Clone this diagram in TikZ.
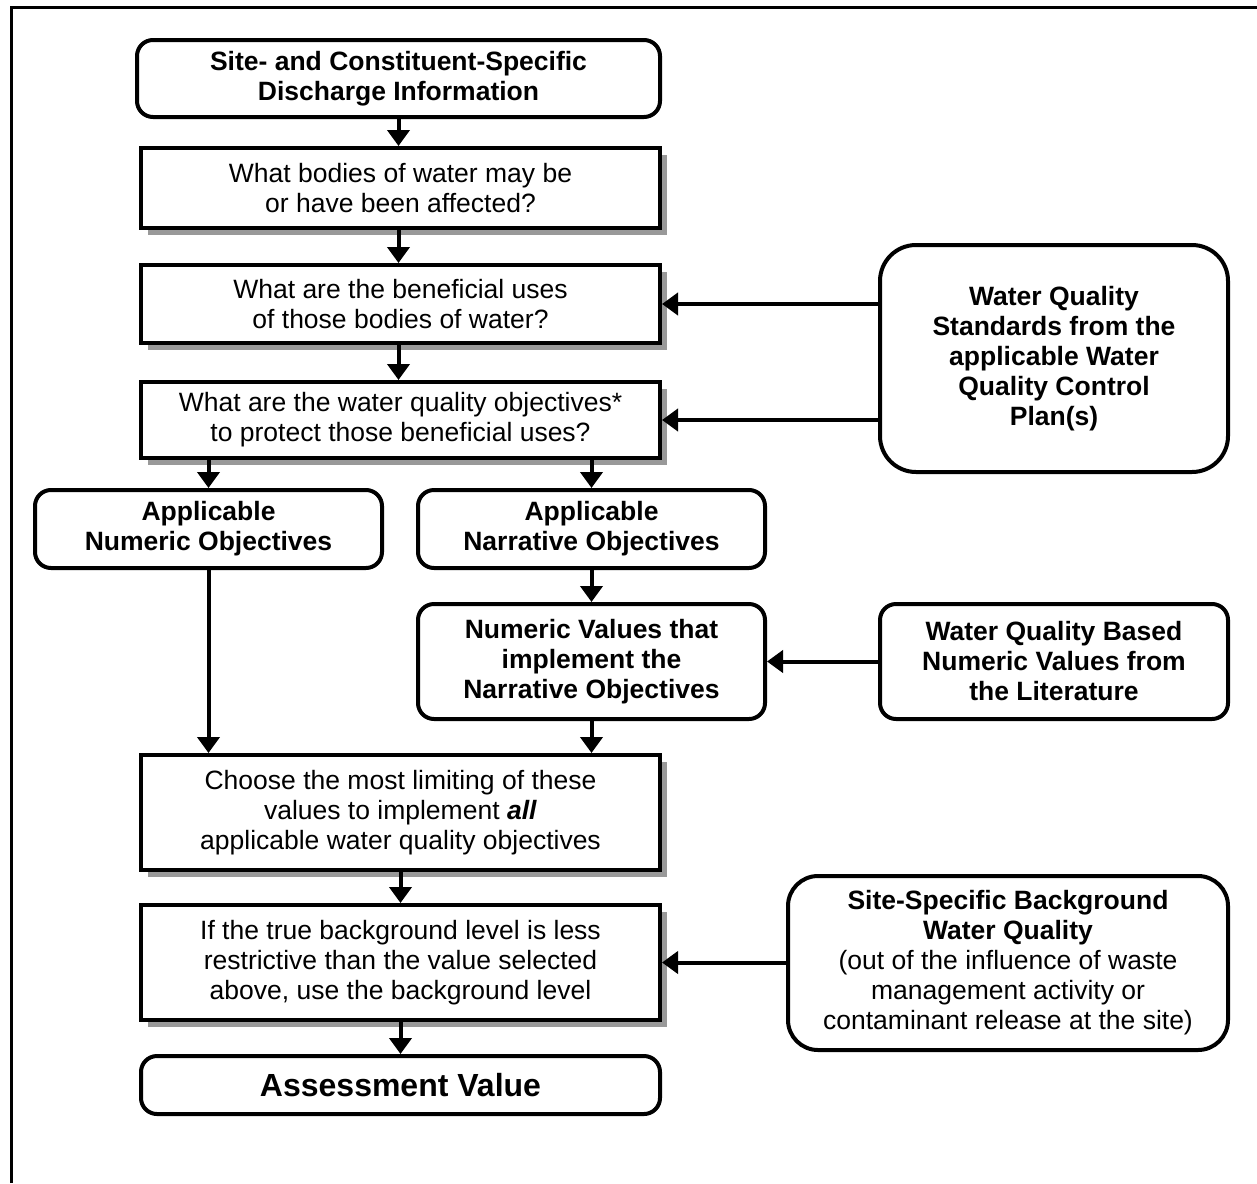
\documentclass[tikz,border=0pt]{standalone}
\usepackage{fontspec}
\setmainfont{Liberation Sans}
\usetikzlibrary{shadows, arrows.meta, positioning}

\begin{document}
\begin{tikzpicture}[x=1pt, y=-1pt,
    qbox/.style={draw, line width=4pt, fill=white, align=center, inner sep=0pt,
        font=\fontsize{26.5}{30}\selectfont,
        drop shadow={shadow xshift=7pt, shadow yshift=-7pt, fill=black!40, opacity=1}},
    rbox/.style={draw, line width=4pt, fill=white, align=center, inner sep=0pt,
        rounded corners=16pt, font=\fontsize{26.5}{30}\selectfont\bfseries},
    arr/.style={line width=4pt, -{Triangle[width=22pt, length=16pt]}}]
    \useasboundingbox (0,0) rectangle (1257,1183);

    % Frame
    \draw[line width=3pt] (11,1183) -- (11,7) -- (1257,7);

    % Main column
    \node[rbox, minimum width=523pt, minimum height=77pt] (site) at (398.5, 78.5)
        {Site- and Constituent-Specific\\Discharge Information};
    \node[qbox, minimum width=519pt, minimum height=80pt] (bodies) at (400.5, 188)
        {What bodies of water may be\\or have been affected?};
    \node[qbox, minimum width=519pt, minimum height=78pt] (uses) at (400.5, 304)
        {What are the beneficial uses\\of those bodies of water?};
    \node[qbox, minimum width=519pt, minimum height=76pt] (wqo) at (400.5, 420)
        {What are the water quality objectives*\\to protect those beneficial uses?};

    % Objectives
    \node[rbox, minimum width=347pt, minimum height=78pt] (numobj) at (208.5, 529)
        {Applicable\\Numeric Objectives};
    \node[rbox, minimum width=347pt, minimum height=78pt] (narobj) at (591.5, 529)
        {Applicable\\Narrative Objectives};
    \node[rbox, minimum width=347pt, minimum height=115pt] (numval) at (591.5, 661.5)
        {Numeric Values that\\implement the\\Narrative Objectives};

    % Sources on the right
    \node[rbox, rounded corners=36pt, minimum width=348pt, minimum height=227pt] (wqs) at (1054, 358.5)
        {Water Quality\\Standards from the\\applicable Water\\Quality Control\\Plan(s)};
    \node[rbox, minimum width=348pt, minimum height=115pt] (litval) at (1054, 661.5)
        {Water Quality Based\\Numeric Values from\\the Literature};
    \node[rbox, rounded corners=30pt, minimum width=440pt, minimum height=174pt, font=\fontsize{26.5}{30}\selectfont] (sitebkg) at (1008, 963)
        {\textbf{Site-Specific Background}\\\textbf{Water Quality}\\(out of the influence of waste\\management activity or\\contaminant release at the site)};

    % Selection
    \node[qbox, minimum width=519pt, minimum height=115pt] (choose) at (400.5, 812.5)
        {Choose the most limiting of these\\values to implement \textbf{\textit{all}}\\applicable water quality objectives};
    \node[qbox, minimum width=519pt, minimum height=115pt] (bkg) at (400.5, 962.5)
        {If the true background level is less\\restrictive than the value selected\\above, use the background level};
    \node[rbox, minimum width=519pt, minimum height=58pt, font=\fontsize{32}{36}\selectfont\bfseries] (assess) at (400.5, 1085)
        {Assessment Value};

    % Arrows
    \draw[arr] (site.south) -- (site.south |- bodies.north);
    \draw[arr] (site.south |- bodies.south) -- (site.south |- uses.north);
    \draw[arr] (site.south |- uses.south) -- (site.south |- wqo.north);
    \draw[arr] (numobj.north |- wqo.south) -- (numobj.north);
    \draw[arr] (narobj.north |- wqo.south) -- (narobj.north);
    \draw[arr] (narobj.south) -- (numval.north);
    \draw[arr] (numobj.south) -- (numobj.south |- choose.north);
    \draw[arr] (numval.south) -- (numval.south |- choose.north);
    \draw[arr] (wqs.west |- uses) -- (uses.east);
    \draw[arr] (wqs.west |- wqo) -- (wqo.east);
    \draw[arr] (litval.west) -- (numval.east);
    \draw[arr] (choose.south) -- (bkg.north);
    \draw[arr] (sitebkg.west |- bkg) -- (bkg.east);
    \draw[arr] (bkg.south) -- (assess.north);
\end{tikzpicture}
\end{document}
